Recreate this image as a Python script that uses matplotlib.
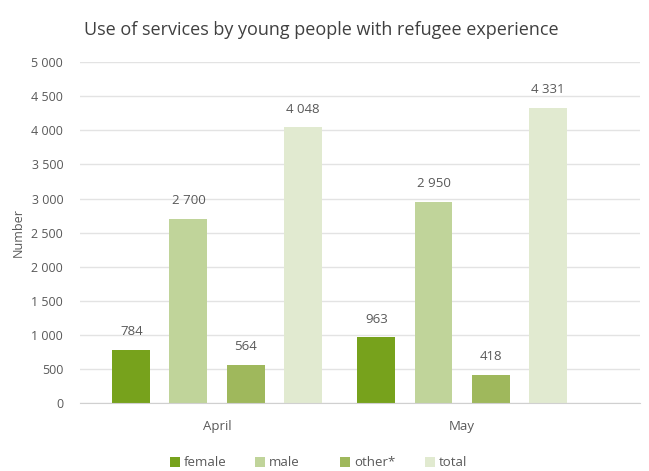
import matplotlib.pyplot as plt
import numpy as np

months = ['April', 'May']
series = ['female', 'male', 'other*', 'total']
female = [784, 963]
male = [2700, 2950]
other = [564, 418]
total = [4048, 4331]
colors = ['#77a21c', '#c0d49a', '#9fb85c', '#e1ead0']

plt.rcParams['font.family'] = ['Open Sans', 'DejaVu Sans']
text_col = '#595959'

fig = plt.figure(figsize=(6.49, 4.71), dpi=100)
ax = fig.add_axes([0.123, 0.144, 0.863, 0.724])

x = np.arange(len(months))
step = 0.233
width = 0.155
bar_sets = []
for i, (name, vals) in enumerate(zip(series, [female, male, other, total])):
    pos = x + (i - 1.5) * step
    bars = ax.bar(pos, vals, width, color=colors[i], label=name, zorder=2)
    bar_sets.append(bars)
    for b, v in zip(bars, vals):
        lbl = f'{v:,}'.replace(',', ' ')
        ax.text(b.get_x() + b.get_width() / 2, v + 170, lbl,
                ha='center', va='bottom', fontsize=9.5, color=text_col)

ax.set_xlim(-0.56, 1.726)
ax.set_ylim(0, 5000)
yt = np.arange(0, 5001, 500)
ax.set_yticks(yt)
ax.set_yticklabels([f'{v:,}'.replace(',', ' ') for v in yt], fontsize=9, color=text_col)
ax.set_xticks(x)
ax.set_xticklabels(months, fontsize=9.5, color=text_col)
ax.tick_params(axis='y', length=0, pad=12)
ax.tick_params(axis='x', length=0, pad=12)
ax.grid(axis='y', color='#e3e3e3', linewidth=1, zorder=0)
for s in ['top', 'right', 'left']:
    ax.spines[s].set_visible(False)
ax.spines['bottom'].set_color('#d0d0d0')

ax.set_ylabel('Number', fontsize=9, color=text_col, labelpad=5)
fig.text(0.495, 1 - 30 / 471, 'Use of services by young people with refugee experience',
         ha='center', va='center', fontsize=13, color='#404040')

# legend entries sit at fixed spacing along the bottom
legend_x = [170, 255, 340, 425]
for bars, name, lx in zip(bar_sets, series, legend_x):
    leg = fig.legend([bars], [name], loc='center left',
                     bbox_to_anchor=(lx / 649, 1 - 463 / 471), frameon=False,
                     fontsize=9.5, handlelength=0.75, handleheight=0.75,
                     handletextpad=0.3, borderpad=0, borderaxespad=0,
                     labelcolor=text_col)

fig.savefig('out.png', dpi=100)
